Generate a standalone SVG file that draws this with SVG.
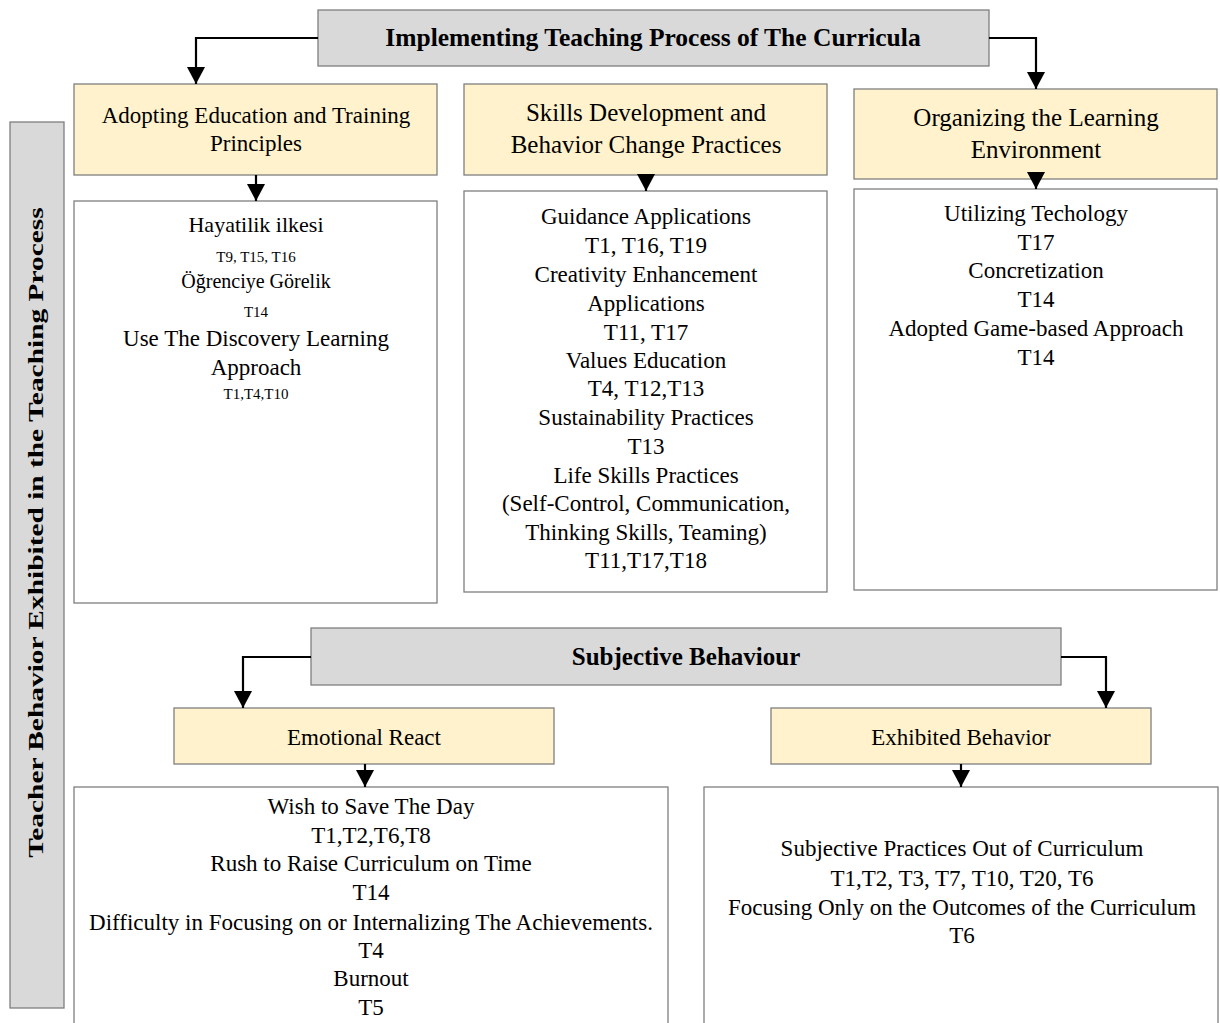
<svg xmlns="http://www.w3.org/2000/svg" width="1220" height="1023" viewBox="0 0 1220 1023">
<style>
.t{font-family:"Liberation Serif","Times New Roman",serif;fill:#000;text-anchor:middle}
.b{font-weight:bold}
.gray{fill:#d9d9d9;stroke:#7f7f7f;stroke-width:1.3}
.hdr{fill:#fff2cc;stroke:#7f7f7f;stroke-width:1.3}
.box{fill:#fff;stroke:#7f7f7f;stroke-width:1.3}
.c{fill:none;stroke:#000;stroke-width:2.2;marker-end:url(#ah)}
</style>
<defs>
<marker id="ah" markerUnits="userSpaceOnUse" markerWidth="20" markerHeight="20" viewBox="0 0 20 20" refX="17" refY="10" orient="auto">
<path d="M0,1 L17,10 L0,19 Z" fill="#000"/>
</marker>
</defs>
<rect width="1220" height="1023" fill="#fff"/>

<g id="side-label">
<rect class="gray" x="10" y="122" width="54" height="886"/>
<text class="t b" font-size="21" transform="translate(43,532.5) rotate(-90) scale(1.4,1)">Teacher Behavior Exhibited in the Teaching Process</text>
</g>

<g id="title">
<rect class="gray" x="318" y="10" width="671" height="56"/>
<text class="t b" x="653" y="46" font-size="25.5">Implementing Teaching Process of The Curricula</text>
</g>

<g id="hdr-a">
<rect class="hdr" x="74" y="84" width="363" height="91"/>
<text class="t" x="256" y="123" font-size="23">Adopting Education and Training</text>
<text class="t" x="256" y="151" font-size="23">Principles</text>
</g>
<g id="hdr-b">
<rect class="hdr" x="464" y="84" width="363" height="91"/>
<text class="t" x="646" y="121" font-size="25">Skills Development and</text>
<text class="t" x="646" y="153" font-size="25">Behavior Change Practices</text>
</g>
<g id="hdr-c">
<rect class="hdr" x="854" y="89" width="363" height="90"/>
<text class="t" x="1036" y="126" font-size="25">Organizing the Learning</text>
<text class="t" x="1036" y="158" font-size="25">Environment</text>
</g>

<g id="content-a">
<rect class="box" x="74" y="201" width="363" height="402"/>
<text class="t" x="256" y="232" font-size="22">Hayatilik ilkesi</text>
<text class="t" x="256" y="262" font-size="15">T9, T15, T16</text>
<text class="t" x="256" y="288" font-size="20">Öğrenciye Görelik</text>
<text class="t" x="256" y="317" font-size="15">T14</text>
<text class="t" x="256" y="346" font-size="23">Use The Discovery Learning</text>
<text class="t" x="256" y="375" font-size="23">Approach</text>
<text class="t" x="256" y="399" font-size="15">T1,T4,T10</text>
</g>

<g id="content-b">
<rect class="box" x="464" y="191" width="363" height="401"/>
<g class="t" font-size="23">
<text x="646" y="224">Guidance Applications</text>
<text x="646" y="253">T1, T16, T19</text>
<text x="646" y="282">Creativity Enhancement</text>
<text x="646" y="311">Applications</text>
<text x="646" y="340">T11, T17</text>
<text x="646" y="368">Values Education</text>
<text x="646" y="396">T4, T12,T13</text>
<text x="646" y="425">Sustainability Practices</text>
<text x="646" y="454">T13</text>
<text x="646" y="483">Life Skills Practices</text>
<text x="646" y="511">(Self-Control, Communication,</text>
<text x="646" y="540">Thinking Skills, Teaming)</text>
<text x="646" y="568">T11,T17,T18</text>
</g>
</g>

<g id="content-c">
<rect class="box" x="854" y="189" width="363" height="401"/>
<g class="t" font-size="23">
<text x="1036" y="221">Utilizing Techology</text>
<text x="1036" y="250">T17</text>
<text x="1036" y="278">Concretization</text>
<text x="1036" y="307">T14</text>
<text x="1036" y="336">Adopted Game-based Approach</text>
<text x="1036" y="365">T14</text>
</g>
</g>

<g id="subjective">
<rect class="gray" x="311" y="628" width="750" height="57"/>
<text class="t b" x="686" y="665" font-size="25">Subjective Behaviour</text>
</g>

<g id="emotional">
<rect class="hdr" x="174" y="708" width="380" height="56"/>
<text class="t" x="364" y="745" font-size="23">Emotional React</text>
</g>
<g id="exhibited">
<rect class="hdr" x="771" y="708" width="380" height="56"/>
<text class="t" x="961" y="745" font-size="23">Exhibited Behavior</text>
</g>

<g id="content-emotional">
<rect class="box" x="74" y="787" width="594" height="250"/>
<g class="t" font-size="23">
<text x="371" y="814">Wish to Save The Day</text>
<text x="371" y="843">T1,T2,T6,T8</text>
<text x="371" y="871">Rush to Raise Curriculum on Time</text>
<text x="371" y="900">T14</text>
<text x="371" y="930">Difficulty in Focusing on or Internalizing The Achievements.</text>
<text x="371" y="958">T4</text>
<text x="371" y="986">Burnout</text>
<text x="371" y="1015">T5</text>
</g>
</g>
<g id="content-exhibited">
<rect class="box" x="704" y="787" width="514" height="250"/>
<g class="t" font-size="23">
<text x="962" y="856">Subjective Practices Out of Curriculum</text>
<text x="962" y="886">T1,T2, T3, T7, T10, T20, T6</text>
<text x="962" y="915">Focusing Only on the Outcomes of the Curriculum</text>
<text x="962" y="943">T6</text>
</g>
</g>

<g id="connectors">
<path class="c" d="M318,38 H196 V84"/>
<path class="c" d="M989,38 H1036 V89"/>
<path class="c" d="M256,175 V201"/>
<path class="c" d="M646,175 V191"/>
<path class="c" d="M1036,179 V189"/>
<path class="c" d="M311,657 H243 V708"/>
<path class="c" d="M1061,657 H1106 V708"/>
<path class="c" d="M365,764 V787"/>
<path class="c" d="M961,764 V787"/>
</g>
</svg>
